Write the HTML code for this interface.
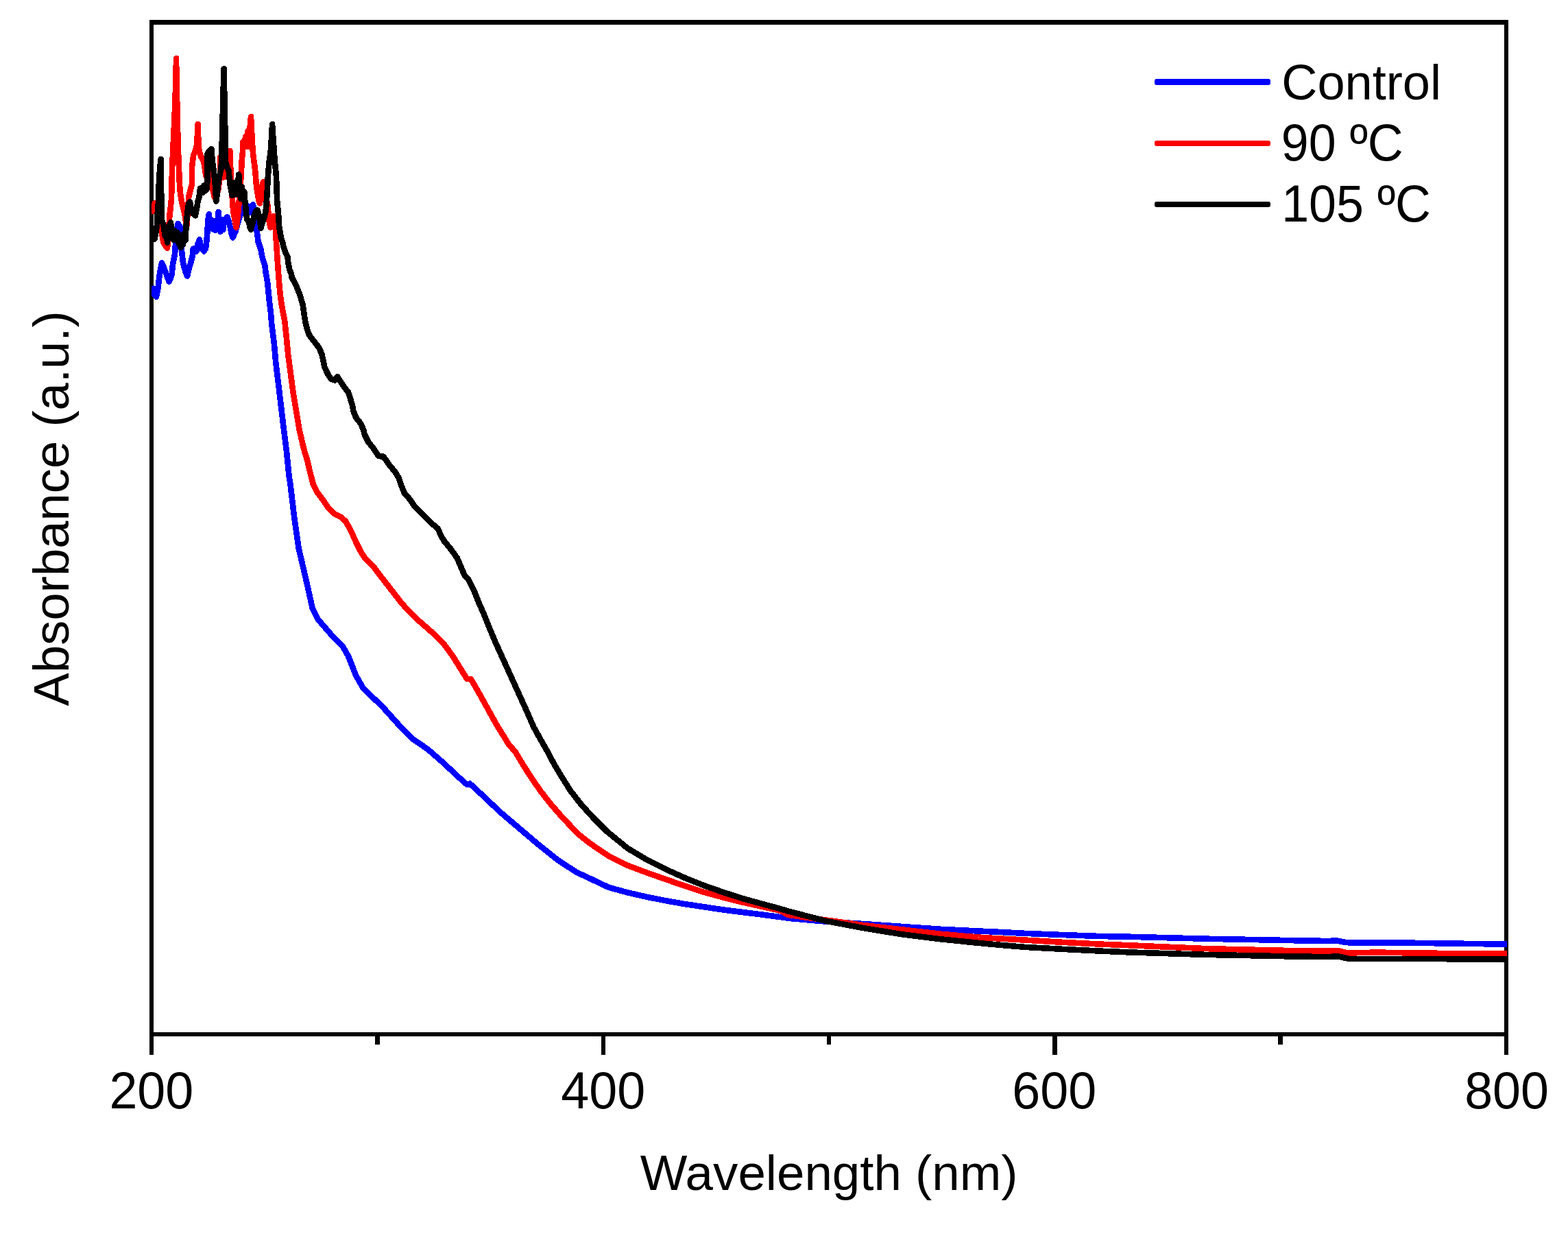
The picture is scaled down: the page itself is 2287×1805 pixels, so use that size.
<!DOCTYPE html>
<html lang="en">
<head>
<meta charset="utf-8">
<title>UV-Vis absorbance spectra</title>
<style>
html,body{margin:0;padding:0;background:#fff;}
body{width:2287px;height:1805px;overflow:hidden;}
svg{display:block;}
text{font-family:"Liberation Sans",sans-serif;font-size:73px;fill:#000;}
.c{fill:none;stroke-width:8.6;stroke-linejoin:round;stroke-linecap:butt;}
</style>
</head>
<body>
<svg width="2287" height="1805" viewBox="0 0 2287 1805">
<rect x="0" y="0" width="2287" height="1805" fill="#ffffff"/>
<defs><clipPath id="plot"><rect x="221" y="36" width="1977" height="1469"/></clipPath></defs>
<g shape-rendering="crispEdges" fill="#000">
<rect x="218" y="29" width="1982" height="7"/>
<rect x="218" y="29" width="6" height="1509"/>
<rect x="2194" y="29" width="6" height="1509"/>
<rect x="218" y="1505" width="1982" height="6"/>
<rect x="877" y="1505" width="6" height="33"/>
<rect x="1535" y="1505" width="7" height="33"/>
<rect x="547" y="1505" width="7" height="18"/>
<rect x="1206" y="1505" width="6" height="18"/>
<rect x="1864" y="1505" width="7" height="18"/>
</g>
<g clip-path="url(#plot)" shape-rendering="crispEdges">
<polyline class="c" stroke="#0000ff" points="221.0,417.0 224.0,428.0 228.0,432.6 230.5,420.0 232.0,406.0 233.5,396.0 236.0,383.4 239.0,390.0 241.5,397.0 244.0,404.0 246.6,410.7 249.0,405.0 250.7,400.0 252.0,385.5 253.5,378.0 255.1,370.0 256.0,355.0 258.0,335.0 259.5,326.2 262.7,331.0 264.0,350.0 265.0,365.0 266.0,375.0 267.0,383.0 269.0,391.0 270.5,396.0 272.0,400.0 273.3,402.6 274.5,396.0 276.5,388.0 278.0,384.0 279.5,378.0 281.0,372.0 281.5,363.0 284.0,362.0 286.5,366.4 288.5,356.0 291.1,349.4 293.0,362.0 295.0,363.5 297.5,366.4 300.0,362.0 301.5,350.0 302.3,340.0 303.3,322.0 304.9,312.2 306.5,333.0 308.5,321.0 310.5,334.0 312.0,322.0 313.5,335.7 315.5,322.0 317.0,333.0 318.6,309.1 320.0,333.0 321.4,337.7 323.0,320.0 325.5,335.0 327.0,320.0 328.5,322.0 331.4,316.3 333.0,321.0 334.7,327.0 335.4,330.0 336.4,334.0 337.4,340.0 339.5,346.4 343.6,337.0 347.0,325.0 352.0,308.0 355.0,300.0 358.0,297.0 361.0,301.0 364.0,310.0 366.5,303.0 369.0,298.2 371.5,315.0 373.5,330.0 375.5,343.0 376.5,352.0 378.5,358.0 380.5,364.0 381.6,371.0 383.5,378.5 386.1,385.9 387.6,397.0 390.2,411.8 391.6,426.5 393.1,441.3 395.0,456.1 396.1,470.9 397.9,485.7 399.9,501.1 402.2,528.0 407.8,574.3 413.3,620.5 417.9,657.5 421.6,694.5 423.5,706.3 429.0,752.5 435.5,798.8 442.0,826.5 448.5,854.3 455.9,887.6 463.3,902.4 474.4,915.3 487.3,930.1 500.3,943.1 507.7,956.0 515.1,974.5 518.9,984.4 530.0,1003.8 557.7,1030.2 582.7,1058.0 602.1,1077.4 624.3,1092.7 646.5,1112.1 668.7,1132.9 681.2,1144.0 685.4,1142.6 702.0,1157.9 729.8,1184.2 757.5,1207.8 785.3,1231.4 813.1,1253.6 840.8,1271.7 860.0,1280.6 887.8,1293.8 915.5,1301.4 943.3,1307.7 971.0,1313.2 998.8,1318.1 1026.5,1322.2 1054.3,1326.4 1082.0,1329.9 1109.8,1333.3 1137.5,1337.0 1150.0,1338.8 1205.5,1343.7 1261.0,1347.1 1316.5,1351.0 1372.0,1354.8 1427.5,1357.5 1449.7,1358.5 1493.6,1360.8 1549.0,1363.0 1604.5,1365.0 1648.8,1365.8 1758.6,1368.7 1897.2,1371.4 1938.8,1372.0 1948.5,1371.2 1963.8,1374.2 2063.6,1374.8 2199.0,1376.7"/>
<polyline class="c" stroke="#ff0000" points="221.0,298.0 223.0,308.0 226.0,296.0 229.0,310.0 232.0,325.0 236.0,340.0 238.0,352.0 241.0,358.0 244.0,361.6 246.0,340.0 247.3,315.0 248.5,305.0 250.0,290.0 251.1,245.0 252.4,215.0 253.3,197.0 254.4,174.0 255.5,145.0 256.5,114.0 257.0,85.0 257.6,120.0 258.6,165.0 259.6,210.0 260.9,243.0 261.9,268.0 263.0,282.0 264.4,290.0 265.4,296.0 267.4,304.0 268.4,308.0 269.5,313.0 270.5,320.0 272.5,328.0 274.0,305.0 275.3,287.0 277.5,278.0 279.9,269.0 279.9,245.0 281.0,235.0 282.1,227.0 284.0,222.0 286.5,215.0 287.5,205.0 288.5,181.0 289.6,210.0 290.6,221.0 293.0,228.0 296.0,233.0 298.0,240.0 299.5,250.0 300.5,257.0 304.0,250.0 308.0,255.0 309.4,272.0 312.5,286.0 315.0,291.0 318.5,275.0 320.5,260.0 321.2,251.0 321.2,229.5 323.0,232.0 325.0,258.5 328.0,258.0 331.0,235.0 333.5,222.0 335.5,220.0 336.0,240.0 337.0,258.0 338.0,275.0 339.2,295.0 340.2,308.0 342.0,318.0 344.6,331.6 345.7,324.0 346.7,316.0 347.7,306.0 349.0,290.0 351.0,265.0 352.2,245.0 353.0,230.0 354.0,222.0 354.5,207.0 356.5,214.0 358.0,199.0 360.0,214.0 361.5,191.0 363.3,214.0 364.5,186.0 366.0,170.0 367.9,208.0 368.9,222.0 370.0,232.0 371.0,239.0 372.0,247.0 373.0,258.0 374.1,272.0 376.0,284.0 377.5,292.0 379.0,296.4 380.8,285.0 383.0,268.0 384.5,264.9 387.0,285.0 390.7,300.0 391.5,312.0 392.5,322.0 394.5,331.6 397.0,320.0 399.0,315.2 401.0,315.2 402.0,330.0 402.5,345.0 403.4,360.0 404.9,382.2 406.0,397.0 407.1,411.8 408.1,422.8 409.3,433.9 410.3,441.3 411.6,448.7 413.0,456.1 414.4,463.5 415.6,470.9 416.7,482.0 417.5,488.5 420.1,516.0 423.8,544.0 427.5,571.7 432.1,599.5 436.7,627.2 437.4,629.8 442.9,653.8 448.5,672.3 451.2,684.1 456.8,706.3 462.3,717.4 470.7,728.5 478.1,739.6 487.3,748.8 496.6,753.4 504.0,759.9 511.4,772.9 518.8,789.5 526.2,804.3 533.6,815.4 546.5,828.4 557.6,843.2 570.6,859.8 583.5,876.5 594.6,889.4 605.7,900.5 620.5,913.5 635.3,926.4 646.4,937.5 660.4,956.7 674.3,978.9 681.2,990.0 686.8,990.0 696.5,1006.6 710.4,1031.6 724.2,1056.6 738.1,1078.8 740.0,1082.7 752.2,1097.0 763.1,1115.5 775.2,1134.0 787.8,1152.5 802.2,1171.0 818.2,1189.5 835.7,1208.0 845.0,1217.3 860.0,1229.3 887.8,1248.0 915.5,1261.9 943.3,1272.3 971.0,1282.0 998.8,1291.7 1026.5,1300.7 1054.3,1308.3 1082.0,1315.3 1109.8,1321.5 1137.5,1327.6 1150.0,1334.0 1205.5,1341.6 1261.0,1349.2 1316.5,1355.5 1372.0,1361.7 1427.5,1366.6 1449.7,1368.0 1493.6,1370.5 1549.0,1373.8 1604.5,1376.6 1648.8,1378.3 1758.6,1383.1 1897.2,1386.4 1938.8,1386.4 1949.9,1385.8 1965.2,1389.5 2008.0,1388.6 2063.6,1389.5 2199.0,1390.8"/>
<polyline class="c" stroke="#000000" points="221.0,332.0 223.0,345.0 225.5,348.5 227.5,338.0 229.0,328.0 230.0,306.0 231.0,295.0 231.3,280.0 232.3,258.0 233.3,244.0 234.6,232.2 234.9,250.0 235.2,280.0 235.7,320.0 238.5,329.0 241.0,345.0 242.5,331.0 244.0,353.5 246.0,333.0 248.9,324.4 251.0,340.0 252.5,349.5 254.5,336.0 256.5,350.0 258.5,339.0 260.5,355.0 262.0,343.0 263.6,360.9 265.5,345.0 267.0,356.0 269.0,340.0 270.5,350.0 271.5,330.0 272.5,318.0 273.5,308.0 275.0,298.0 276.9,294.1 279.0,305.0 281.5,311.5 285.0,314.3 287.6,300.0 288.5,294.0 290.5,287.0 292.0,274.5 294.0,274.0 296.0,281.0 297.5,270.5 299.5,278.0 301.5,276.0 302.3,266.0 302.5,225.0 304.5,220.6 308.4,217.3 309.7,235.0 311.5,247.0 313.5,265.0 314.5,280.0 315.3,293.4 317.0,280.0 318.3,268.0 320.0,257.0 322.3,247.0 323.2,235.0 323.6,215.0 324.2,190.0 325.2,150.0 326.5,100.3 327.8,160.0 328.8,215.0 329.0,235.0 330.5,242.0 333.7,249.0 334.4,258.0 335.4,268.0 337.4,278.0 338.5,285.0 340.5,266.0 342.5,284.0 344.3,267.0 346.0,283.0 348.2,254.5 349.5,272.0 351.0,290.0 353.0,273.0 355.0,291.5 356.3,280.0 357.4,295.0 358.5,303.0 359.3,314.0 360.5,320.0 363.4,325.0 364.5,331.0 366.0,334.6 368.5,325.0 370.5,315.0 373.0,308.0 375.4,306.3 378.0,315.0 379.5,325.0 380.5,332.6 382.5,325.0 385.0,318.0 387.0,311.0 388.2,302.0 389.4,285.0 390.8,258.0 392.6,236.0 395.0,218.0 397.1,181.0 398.9,208.0 400.0,224.0 401.0,237.0 403.0,258.0 404.1,292.0 406.1,312.5 407.1,330.0 409.7,345.6 412.0,353.0 413.6,360.0 416.1,367.4 419.6,374.8 420.1,382.2 421.6,389.6 422.7,394.0 425.1,399.9 425.5,404.4 428.9,410.3 431.2,414.7 434.0,421.4 436.0,426.5 438.0,431.7 439.5,437.6 441.4,443.5 442.3,448.7 443.3,456.1 444.4,463.5 445.5,470.0 447.8,479.2 451.0,488.5 458.0,497.7 465.4,507.0 469.3,516.2 471.4,525.5 473.2,534.7 477.4,544.0 482.5,552.3 488.5,554.5 492.2,549.2 500.7,562.5 507.9,571.7 510.9,581.0 513.7,590.2 515.5,599.5 519.2,608.7 526.4,618.0 530.3,627.2 531.7,633.5 537.3,644.6 544.7,653.8 552.1,664.9 559.5,665.8 566.9,676.7 576.1,687.8 581.7,697.0 585.4,708.1 590.0,719.2 598.3,728.5 605.7,739.6 615.0,748.8 624.2,758.1 633.5,766.4 639.0,771.0 642.7,780.3 648.3,789.5 657.5,800.6 666.8,813.6 672.3,826.5 677.9,839.5 683.4,845.0 690.8,859.8 698.2,878.3 705.6,895.0 713.0,913.5 722.3,935.7 731.5,956.0 738.1,970.5 752.0,1001.1 765.9,1031.6 778.4,1060.0 788.6,1078.5 799.2,1097.0 808.9,1115.5 820.2,1134.0 831.8,1152.5 846.1,1171.0 862.6,1189.5 885.0,1212.0 915.5,1236.9 943.3,1253.5 971.0,1267.4 998.8,1279.9 1026.5,1291.0 1054.3,1300.7 1082.0,1309.7 1109.8,1317.4 1137.5,1324.8 1150.0,1328.6 1205.5,1343.0 1261.0,1353.4 1316.5,1362.4 1372.0,1369.3 1427.5,1374.9 1449.7,1377.0 1493.6,1380.8 1549.0,1383.8 1604.5,1386.6 1648.8,1388.5 1758.6,1391.9 1897.2,1394.7 1938.8,1395.0 1951.3,1394.2 1966.5,1397.8 2063.6,1398.0 2199.0,1398.6"/>
</g>
<g>
<rect x="1684" y="115" width="169" height="9" rx="3" ry="3" fill="#0000ff"/>
<rect x="1684" y="205" width="169" height="8" rx="3" ry="3" fill="#ff0000"/>
<rect x="1684" y="294" width="169" height="8" rx="3" ry="3" fill="#000000"/>
</g>
<text transform="translate(1869.24 145) scale(0.9894 1)">Control</text>
<text transform="translate(1868.85 234.4) scale(0.9834 1.031)">90 ºC</text>
<text transform="translate(1869.2 323.4) scale(0.9834 1.031)">105 ºC</text>
<g text-anchor="middle">
<text transform="translate(220.8 1615.5) scale(1.0087 1.033)">200</text>
<text transform="translate(879.7 1615.5) scale(1.0087 1.033)">400</text>
<text transform="translate(1537.75 1615.5) scale(1.0087 1.033)">600</text>
<text transform="translate(2197.55 1615.5) scale(1.0087 1.033)">800</text>
<text transform="translate(1209.1 1735) scale(0.9961 1)">Wavelength (nm)</text>
<text transform="translate(100 741.4) rotate(-90) scale(0.9929 1)">Absorbance (a.u.)</text>
</g>
</svg>
</body>
</html>
